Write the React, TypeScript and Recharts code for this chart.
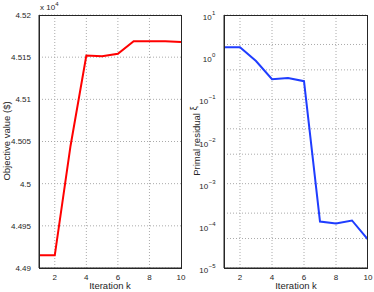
import React from 'react';
import { LineChart, Line, XAxis, YAxis, CartesianGrid } from 'recharts';

const iterations = [1, 2, 3, 4, 5, 6, 7, 8, 9, 10];
const objectiveValues = [44915, 44915, 45045, 45152, 45151, 45154, 45169, 45169, 45169, 45168];
const primalResiduals = [1.71, 1.71, 0.81, 0.3, 0.32, 0.27, 1.26e-4, 1.13e-4, 1.34e-4, 4.7e-5];
const xTicks = [2, 4, 6, 8, 10];
const objTicks = [44900, 44950, 45000, 45050, 45100, 45150, 45200];
const logTicks = [1e-5, 1e-4, 1e-3, 1e-2, 1e-1, 1, 10];
const logExponents = [-5, -4, -3, -2, -1, 0, 1];

const minorLog: number[] = [];
for (let e = -5; e < 1; e++) {
  for (let m = 1; m < 10; m++) minorLog.push(m * Math.pow(10, e));
}
minorLog.push(10);

const objData = iterations.map((k, i) => ({ k, v: objectiveValues[i] }));
const resData = iterations.map((k, i) => ({ k, r: primalResiduals[i] }));

const FONT = '"Liberation Sans", Arial, sans-serif';
const TXT = '#262626';
const AXIS = '#262626';

const LogTick = (props: any) => {
  const { x, y, payload } = props;
  const idx = logTicks.findIndex((t) => Math.abs(Math.log10(t) - Math.log10(payload.value)) < 1e-6);
  const exp = idx >= 0 ? logExponents[idx] : Math.round(Math.log10(payload.value));
  const supText = exp < 0 ? '\u2212' + Math.abs(exp) : String(exp);
  const supW = supText.length * 3.4;
  return (
    <g>
      <text x={x - 1 - supW} y={y + 5} textAnchor="end" fontSize={8} fontFamily={FONT} fill={TXT}>
        10
      </text>
      <text x={x - 0.5 - supW} y={y} textAnchor="start" fontSize={6} fontFamily={FONT} fill={TXT}>
        {supText}
      </text>
    </g>
  );
};

const box = (left: number, top: number, w: number, h: number): React.CSSProperties => ({
  position: 'absolute',
  left,
  top,
  width: w,
  height: h,
  border: `1px solid ${AXIS}`,
  boxSizing: 'border-box',
  pointerEvents: 'none',
});

const rotLabel = (cx: number, cy: number): React.CSSProperties => ({
  position: 'absolute',
  left: cx,
  top: cy,
  transform: 'translate(-50%, -50%) rotate(-90deg)',
  whiteSpace: 'nowrap',
  fontSize: 9.5,
  fontFamily: FONT,
  color: TXT,
  lineHeight: 1,
});

const xLabel = (cx: number, cy: number): React.CSSProperties => ({
  position: 'absolute',
  left: cx,
  top: cy,
  transform: 'translate(-50%, -50%)',
  whiteSpace: 'nowrap',
  fontSize: 9.5,
  fontFamily: FONT,
  color: TXT,
  lineHeight: 1,
});

export default function App() {
  return (
    <div style={{ position: 'absolute', left: 0, top: 0, width: 374, height: 292, background: '#fff', overflow: 'hidden' }}>
      <div style={{ position: 'absolute', left: 0, top: 0 }}>
        <LineChart width={187} height={292} data={objData} margin={{ top: 15, right: 6, bottom: 0, left: 0 }}>
          <CartesianGrid stroke="#aaa" strokeDasharray="1 2" verticalValues={[2, 4, 6, 8]} horizontalValues={objTicks} />
          <XAxis
            dataKey="k"
            type="number"
            domain={[1, 10]}
            ticks={xTicks}
            height={24}
            stroke={AXIS}
            tickLine={false}
            tick={{ fontSize: 8, fontFamily: FONT, fill: TXT }}
            tickMargin={0}
            allowDataOverflow
          />
          <YAxis
            type="number"
            domain={[44900, 45200]}
            ticks={objTicks}
            width={39}
            stroke={AXIS}
            tickLine={false}
            tickMargin={2}
            tick={{ fontSize: 8, fontFamily: FONT, fill: TXT }}
            tickFormatter={(v: number) => String(v / 10000)}
            allowDataOverflow
          />
          <Line dataKey="v" stroke="#ff0000" strokeWidth={2} dot={false} isAnimationActive={false} />
        </LineChart>
      </div>
      <div style={{ position: 'absolute', left: 187, top: 0 }}>
        <LineChart width={187} height={292} data={resData} margin={{ top: 15, right: 6, bottom: 0, left: 0 }}>
          <CartesianGrid stroke="#aaa" strokeDasharray="1 2" verticalValues={[2, 4, 6, 8]} horizontalValues={minorLog} />
          <XAxis
            dataKey="k"
            type="number"
            domain={[1, 10]}
            ticks={xTicks}
            height={24}
            stroke={AXIS}
            tickLine={false}
            tick={{ fontSize: 8, fontFamily: FONT, fill: TXT }}
            tickMargin={0}
            allowDataOverflow
          />
          <YAxis
            type="number"
            scale="log"
            domain={[1e-5, 10]}
            ticks={logTicks}
            width={37}
            stroke={AXIS}
            tickLine={false}
            tick={<LogTick />}
            allowDataOverflow
          />
          <Line dataKey="r" stroke="#1f3dff" strokeWidth={2} dot={false} isAnimationActive={false} />
        </LineChart>
      </div>
      <div style={box(39, 15, 143, 254)} />
      <div style={box(224, 15, 144, 254)} />
      <div style={{ position: 'absolute', left: 40, top: 4, fontSize: 8, fontFamily: FONT, color: TXT, lineHeight: 1, whiteSpace: 'nowrap' }}>
        x 10<span style={{ fontSize: 6, position: 'relative', top: -4 }}>4</span>
      </div>
      <div style={rotLabel(7, 141)}>Objective value ($)</div>
      <div style={rotLabel(197, 141)}>
        Primal residual{' '}
        <span style={{ position: 'relative', top: -3 }}>ξ</span>
      </div>
      <div style={xLabel(110, 286)}>Iteration k</div>
      <div style={xLabel(296, 286)}>Iteration k</div>
    </div>
  );
}
